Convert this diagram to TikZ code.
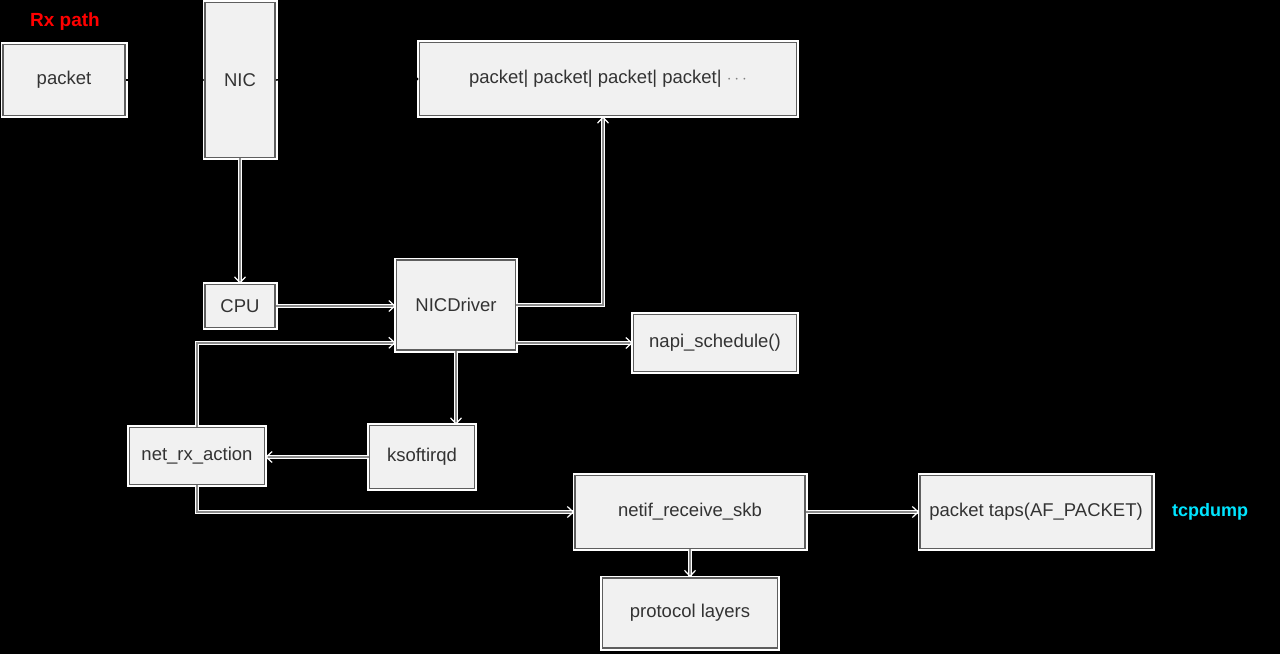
\documentclass[tikz,border=0pt]{standalone}
\usepackage{fontspec}
\setmainfont{Liberation Sans}
\usetikzlibrary{arrows.meta}
\definecolor{boxfill}{HTML}{F1F1F1}
\definecolor{boxline}{HTML}{5E5E5E}
\definecolor{txt}{HTML}{333333}
\definecolor{linegray}{HTML}{8C8C8C}
\definecolor{tcpcyan}{HTML}{00E5FF}
\begin{document}
\begin{tikzpicture}[x=1pt,y=-1pt,
  box/.style={draw=boxline, fill=boxfill, line width=1.6pt, inner sep=0pt,
    preaction={draw=white, line width=5pt},
    font=\fontsize{18.5}{21}\selectfont, text=txt},
  conn/.style={draw=white, line width=1.2pt, double=linegray, double distance=1.8pt,
    -{Straight Barb[length=6pt,width=11pt]}},
  hidden/.style={draw=black, line width=1.5pt, -{Straight Barb[length=5pt,width=9pt]}}]
\useasboundingbox (0,0) rectangle (1280,654);
\fill[black] (0,0) rectangle (1280,654);

% nodes
\node[font=\bfseries\fontsize{19}{22}\selectfont, text=red] (lbl) at (65,22) {Rx path};
\node[box, minimum width=122pt, minimum height=71pt] (pkt) at (64,80) {packet};
\node[box, minimum width=70pt, minimum height=155pt] (nic) at (240,80) {NIC};
\node[box, minimum width=377pt, minimum height=73pt] (buf) at (608,79) {packet| packet| packet| packet| \textcolor{gray}{$\cdots$}};
\node[box, minimum width=70pt, minimum height=43pt] (cpu) at (240,306) {CPU};
\node[box, minimum width=119pt, minimum height=90pt] (drv) at (456,305) {NICDriver};
\node[box, minimum width=163pt, minimum height=57pt] (napi) at (715,343) {napi\_schedule()};
\node[box, minimum width=105pt, minimum height=63pt] (ksoft) at (422,457) {ksoftirqd};
\node[box, minimum width=135pt, minimum height=57pt] (netrx) at (197,456) {net\_rx\_action};
\node[box, minimum width=230pt, minimum height=73pt] (netif) at (690,512) {netif\_receive\_skb};
\node[box, minimum width=232pt, minimum height=73pt] (taps) at (1036,512) {packet taps(AF\_PACKET)};
\node[box, minimum width=175pt, minimum height=70pt] (proto) at (690,613) {protocol layers};
\node[font=\bfseries\fontsize{18}{21}\selectfont, text=tcpcyan] (tcp) at (1210,512) {tcpdump};

% connectors
\draw[hidden] (pkt.east) -- (nic.west);
\draw[hidden] (nic.east) -- (buf.west);
\draw[conn] (nic.south) -- (cpu.north);
\draw[conn] (cpu.east) -- (cpu.east -| drv.west);
\draw[conn] (drv.east) -| ([xshift=-5pt]buf.south);
\draw[conn] (drv.east |- napi.west) -- (napi.west);
\draw[conn] (drv.south) -- (drv.south |- ksoft.north);
\draw[conn] (ksoft.west) -- (ksoft.west -| netrx.east);
\draw[conn] (netrx.north) |- ([yshift=8pt]drv.south west);
\draw[conn] (netrx.south) |- (netif.west);
\draw[conn] (netif.east) -- (taps.west);
\draw[conn] (netif.south) -- (proto.north);
\end{tikzpicture}
\end{document}
